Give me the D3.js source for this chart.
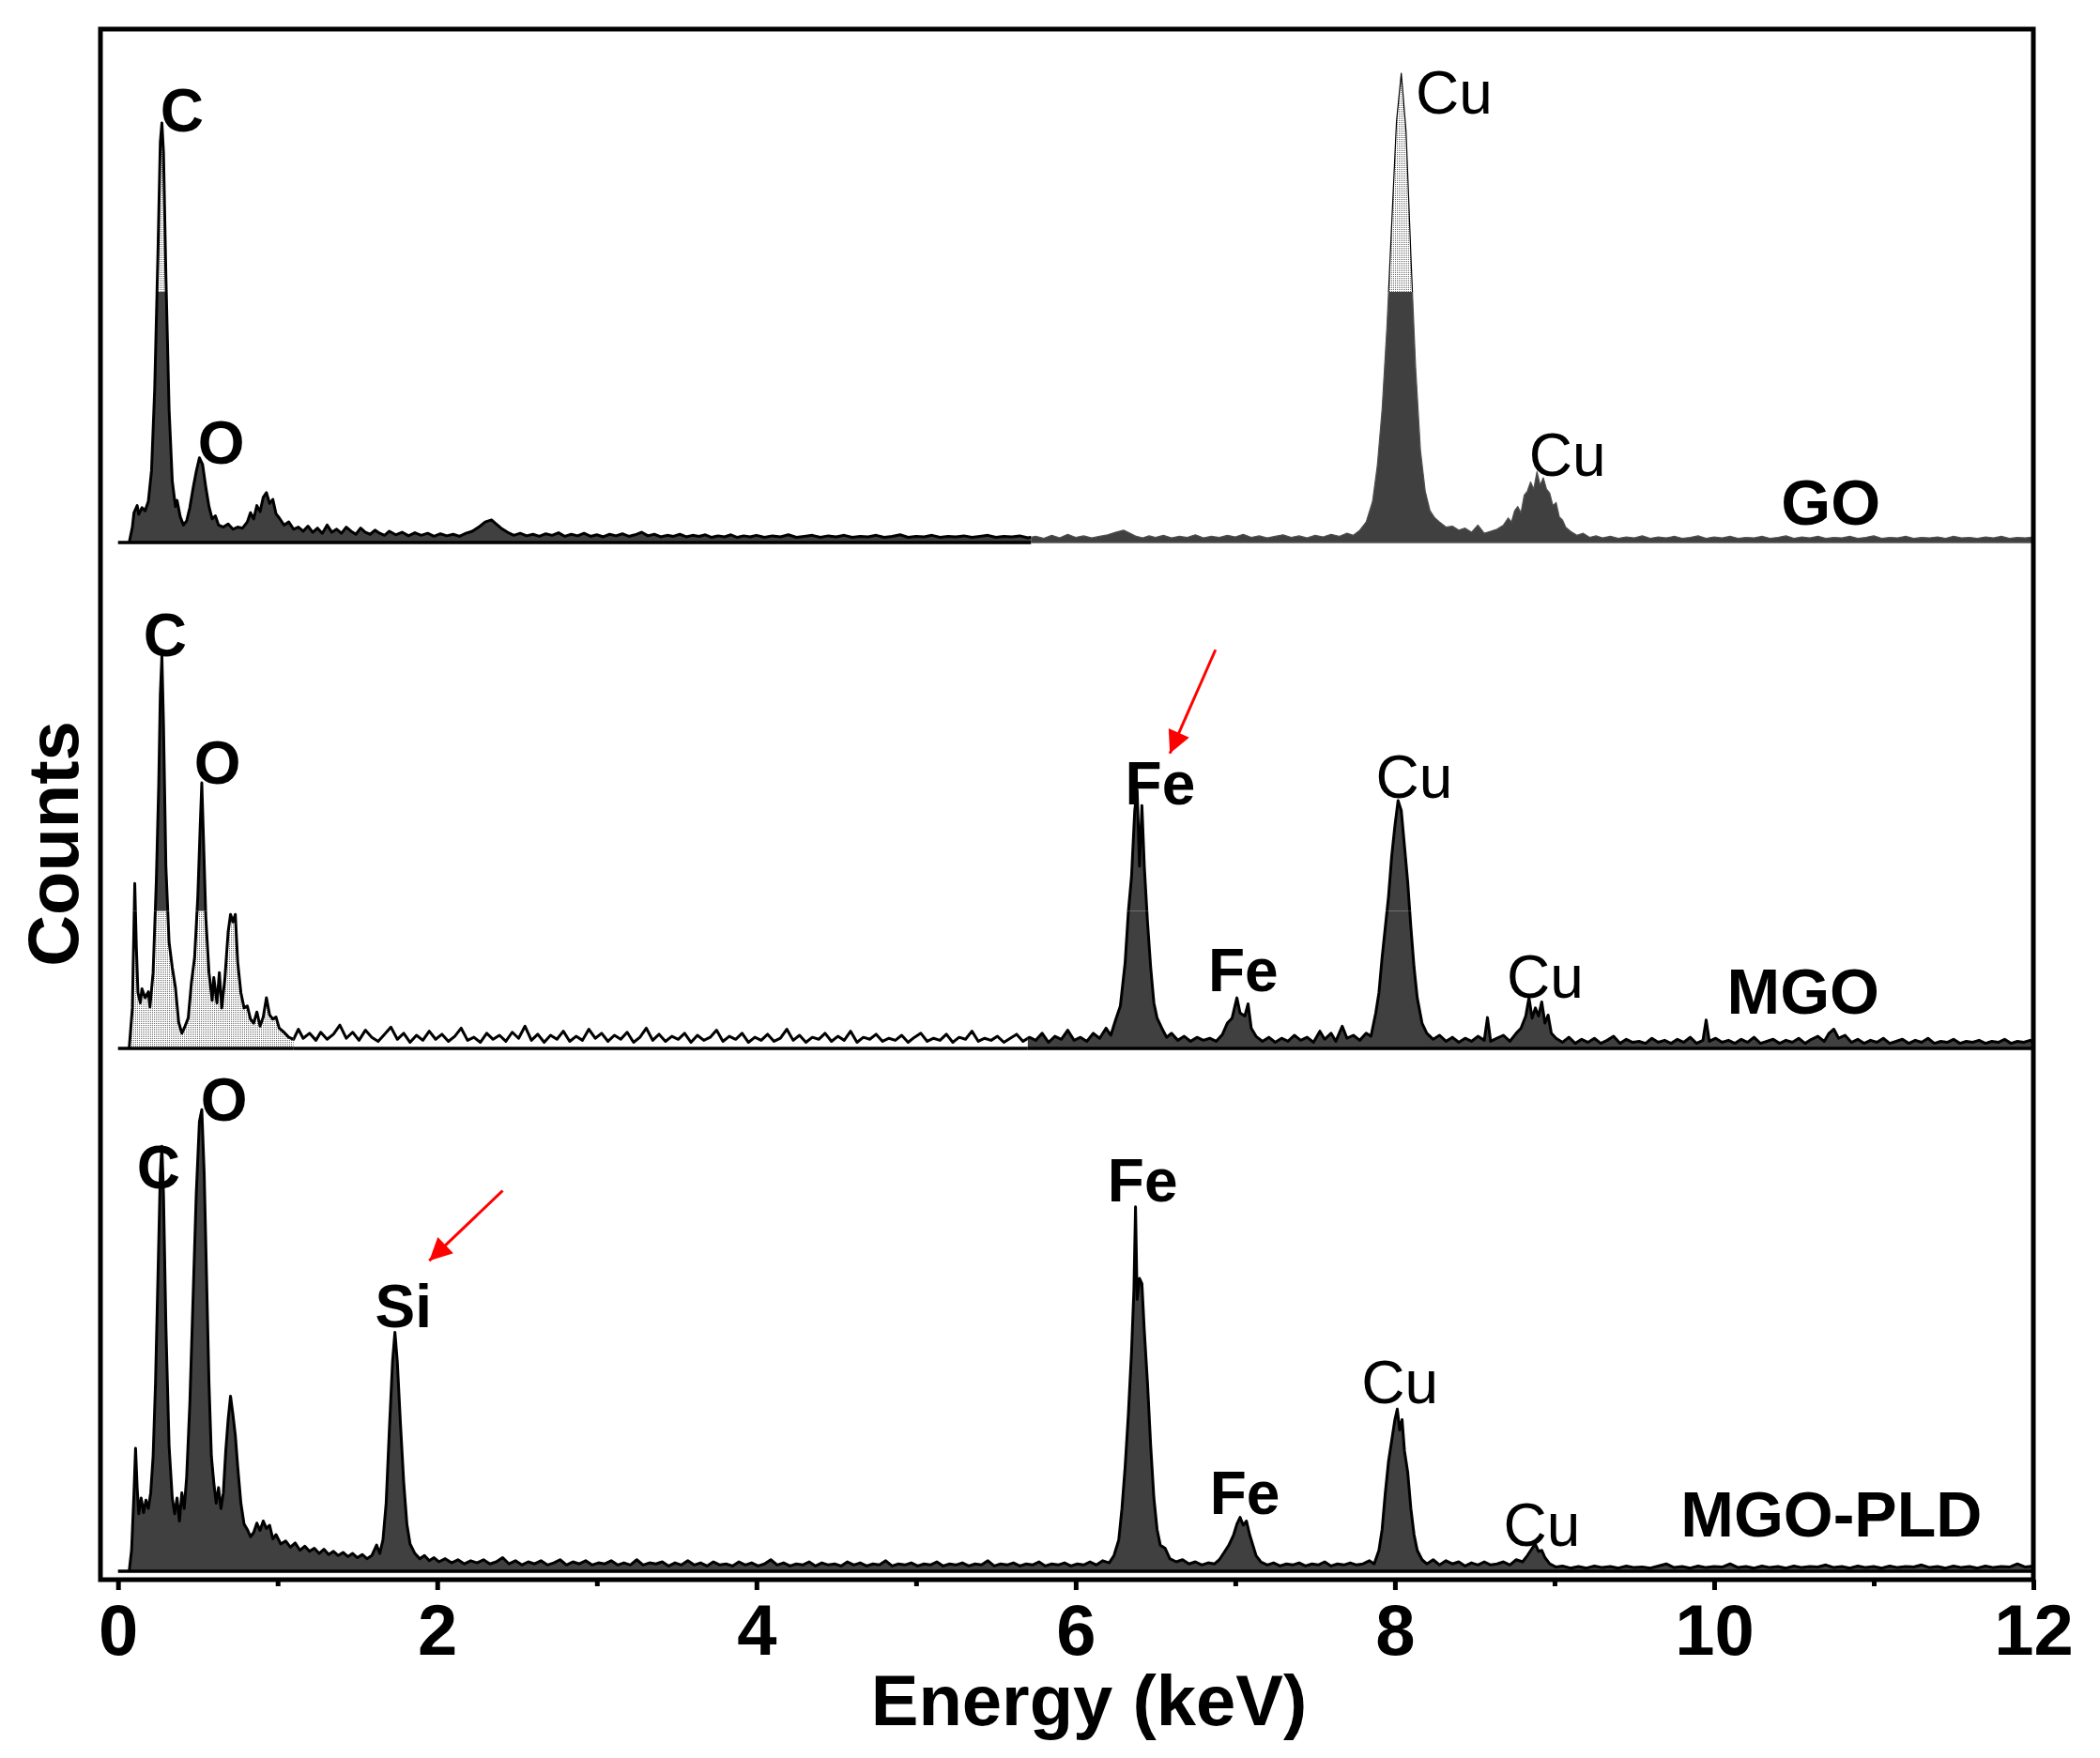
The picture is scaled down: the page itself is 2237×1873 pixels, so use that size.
<!DOCTYPE html>
<html>
<head>
<meta charset="utf-8">
<title>EDS spectra</title>
<script src="https://d3js.org/d3.v7.min.js"></script>
<style>
  body { margin: 0; background: #fff; }
  text { font-family: "Liberation Sans", Arial, sans-serif; }
</style>
</head>
<body>
<svg width="2237" height="1873"></svg>
<script>
// ---- data (energy in keV, counts in arbitrary units, 1000 = panel height) ----
var energyTicks = [0, 2, 4, 6, 8, 10, 12];
var minorTicks = [1, 3, 5, 7, 9, 11];
var samples = ["GO", "MGO", "MGO-PLD"];

var goSpectrum = [
 [0.07,0],[0.09,30],[0.10,58],[0.12,72],[0.13,55],[0.15,68],[0.17,62],[0.19,80],[0.21,140],[0.23,300],[0.25,560],[0.265,780],[0.275,817],[0.285,760],[0.30,520],[0.32,260],[0.34,120],[0.36,70],[0.37,82],[0.39,50],[0.41,34],[0.43,42],[0.45,68],[0.47,105],[0.49,138],[0.51,165],[0.53,152],[0.55,108],[0.57,70],[0.59,46],[0.61,52],[0.63,34],[0.66,30],[0.69,36],[0.72,26],[0.75,30],[0.78,28],[0.81,40],[0.83,58],[0.85,46],[0.87,72],[0.89,60],[0.91,88],[0.93,97],[0.95,76],[0.97,84],[0.99,56],[1.01,48],[1.04,34],[1.07,40],[1.10,26],[1.13,30],[1.16,22],[1.19,32],[1.22,20],[1.25,28],[1.28,18],[1.31,34],[1.34,20],[1.37,26],[1.40,18],[1.43,30],[1.46,22],[1.49,16],[1.52,28],[1.55,20],[1.58,16],[1.61,24],[1.64,18],[1.67,14],[1.70,22],[1.74,15],[1.78,20],[1.82,13],[1.86,19],[1.90,14],[1.94,18],[1.98,12],[2.02,17],[2.06,13],[2.10,16],[2.14,12],[2.18,18],[2.22,22],[2.26,30],[2.30,40],[2.34,44],[2.37,36],[2.40,28],[2.44,20],[2.48,14],[2.52,18],[2.56,13],[2.60,16],[2.64,12],[2.68,17],[2.72,14],[2.76,19],[2.80,12],[2.84,16],[2.88,13],[2.92,18],[2.96,12],[3.00,15],[3.04,11],[3.08,16],[3.12,13],[3.16,17],[3.20,12],[3.24,15],[3.28,20],[3.32,13],[3.36,16],[3.40,11],[3.44,14],[3.48,12],[3.52,16],[3.56,11],[3.60,14],[3.64,12],[3.68,15],[3.72,10],[3.76,13],[3.80,11],[3.84,15],[3.88,10],[3.92,13],[3.96,11],[4.00,14],[4.05,10],[4.10,13],[4.15,11],[4.20,15],[4.25,10],[4.30,12],[4.35,14],[4.40,10],[4.45,13],[4.50,11],[4.55,14],[4.60,10],[4.65,12],[4.70,11],[4.75,14],[4.80,10],[4.85,12],[4.90,15],[4.95,10],[5.00,12],[5.05,11],[5.10,14],[5.15,10],[5.20,12],[5.25,11],[5.30,13],[5.35,10],[5.40,12],[5.45,14],[5.50,10],[5.55,12],[5.60,11],[5.65,13],[5.70,9],
 [5.75,12],[5.80,8],[5.85,14],[5.90,9],[5.95,16],[6.00,10],[6.05,13],[6.10,9],[6.15,12],[6.20,15],[6.25,20],[6.30,24],[6.34,18],[6.38,12],[6.42,9],[6.46,13],[6.50,10],[6.55,14],[6.60,9],[6.65,12],[6.70,10],[6.75,15],[6.80,9],[6.85,12],[6.90,10],[6.95,14],[7.00,11],[7.05,16],[7.10,10],[7.15,13],[7.20,9],[7.25,12],[7.30,15],[7.35,10],[7.40,13],[7.45,9],[7.50,14],[7.55,11],[7.60,16],[7.65,12],[7.70,18],[7.74,14],[7.78,24],[7.82,40],[7.86,80],[7.89,150],[7.92,260],[7.95,420],[7.98,620],[8.01,820],[8.04,914],[8.07,800],[8.10,560],[8.13,340],[8.16,180],[8.19,100],[8.22,62],[8.25,48],[8.28,40],[8.32,30],[8.36,32],[8.40,24],[8.44,28],[8.48,20],[8.52,34],[8.56,18],[8.60,22],[8.64,26],[8.68,34],[8.71,48],[8.73,40],[8.75,62],[8.77,70],[8.79,58],[8.81,92],[8.83,100],[8.85,118],[8.87,104],[8.89,138],[8.91,112],[8.93,126],[8.95,104],[8.97,96],[8.99,72],[9.01,78],[9.03,50],[9.05,44],[9.07,30],[9.10,22],[9.14,14],[9.18,18],[9.22,10],[9.26,13],[9.30,9],[9.35,12],[9.40,8],[9.45,11],[9.50,9],[9.55,13],[9.60,8],[9.65,11],[9.70,9],[9.75,12],[9.80,8],[9.85,10],[9.90,13],[9.95,8],[10.00,11],[10.05,9],[10.10,12],[10.15,8],[10.20,10],[10.25,9],[10.30,12],[10.35,8],[10.40,10],[10.45,13],[10.50,8],[10.55,11],[10.60,9],[10.65,12],[10.70,8],[10.75,10],[10.80,9],[10.85,12],[10.90,8],[10.95,10],[11.00,13],[11.05,8],[11.10,10],[11.15,9],[11.20,12],[11.25,8],[11.30,10],[11.35,9],[11.40,11],[11.45,8],[11.50,12],[11.55,9],[11.60,10],[11.65,8],[11.70,11],[11.75,9],[11.80,12],[11.85,8],[11.90,10],[11.95,9],[12.00,11]
];

var mgoSpectrum = [
 [0.07,0],[0.09,80],[0.105,326],[0.115,200],[0.125,110],[0.14,90],[0.15,118],[0.17,100],[0.19,112],[0.20,82],[0.22,150],[0.24,330],[0.255,520],[0.265,700],[0.275,776],[0.285,640],[0.30,360],[0.32,210],[0.34,160],[0.36,120],[0.38,52],[0.40,30],[0.42,44],[0.44,60],[0.46,130],[0.48,180],[0.50,300],[0.515,440],[0.525,525],[0.535,420],[0.55,260],[0.57,150],[0.59,95],[0.60,140],[0.62,90],[0.635,150],[0.65,80],[0.67,140],[0.69,230],[0.705,265],[0.72,250],[0.735,265],[0.75,170],[0.77,110],[0.79,80],[0.81,84],[0.83,58],[0.85,50],[0.87,72],[0.89,44],[0.91,62],[0.93,100],[0.95,66],[0.97,58],[0.99,62],[1.01,40],[1.04,32],[1.07,22],[1.10,18],[1.13,38],[1.16,20],[1.20,30],[1.24,16],[1.27,32],[1.31,18],[1.35,28],[1.39,46],[1.43,20],[1.47,32],[1.51,16],[1.55,36],[1.59,22],[1.63,14],[1.67,28],[1.71,42],[1.75,18],[1.79,30],[1.83,12],[1.87,26],[1.91,16],[1.95,34],[1.99,18],[2.03,28],[2.07,14],[2.11,24],[2.15,40],[2.19,16],[2.23,22],[2.27,12],[2.31,30],[2.35,18],[2.39,26],[2.43,14],[2.47,32],[2.51,20],[2.55,44],[2.59,16],[2.63,28],[2.67,12],[2.71,26],[2.75,18],[2.79,34],[2.83,14],[2.87,24],[2.91,16],[2.95,38],[2.99,20],[3.03,30],[3.07,14],[3.11,26],[3.15,18],[3.19,32],[3.23,12],[3.27,22],[3.31,40],[3.35,16],[3.39,28],[3.43,14],[3.47,24],[3.51,18],[3.55,30],[3.59,12],[3.63,26],[3.67,16],[3.71,22],[3.75,36],[3.79,14],[3.83,24],[3.87,18],[3.91,30],[3.95,12],[3.99,22],[4.03,16],[4.07,28],[4.11,14],[4.15,20],[4.19,38],[4.23,16],[4.27,26],[4.31,12],[4.35,22],[4.39,18],[4.43,30],[4.47,14],[4.51,24],[4.55,16],[4.59,34],[4.63,12],[4.67,22],[4.71,18],[4.75,28],[4.79,14],[4.83,20],[4.87,16],[4.91,26],[4.95,12],[4.99,22],[5.03,30],[5.07,14],[5.11,20],[5.15,16],[5.19,28],[5.23,12],[5.27,22],[5.31,18],[5.35,34],[5.39,14],[5.43,20],[5.47,16],[5.51,24],[5.55,12],[5.59,20],[5.63,28],[5.67,14],[5.71,22],[5.75,16],[5.79,30],[5.83,12],[5.87,24],[5.91,18],[5.95,36],[5.99,16],[6.03,22],[6.07,14],[6.11,30],[6.15,20],[6.19,40],[6.22,26],[6.25,56],[6.28,84],[6.31,170],[6.33,270],[6.35,340],[6.37,470],[6.385,511],[6.40,360],[6.415,480],[6.43,360],[6.45,250],[6.47,160],[6.49,90],[6.51,60],[6.54,40],[6.57,22],[6.60,30],[6.64,16],[6.68,24],[6.72,14],[6.76,22],[6.80,16],[6.84,20],[6.88,14],[6.92,28],[6.95,50],[6.98,60],[7.01,100],[7.03,70],[7.06,64],[7.08,88],[7.10,40],[7.13,24],[7.17,14],[7.21,22],[7.25,12],[7.29,20],[7.33,14],[7.37,26],[7.41,16],[7.45,22],[7.49,12],[7.53,34],[7.56,18],[7.60,30],[7.63,14],[7.67,44],[7.70,20],[7.74,26],[7.78,16],[7.82,30],[7.85,24],[7.88,70],[7.90,110],[7.92,180],[7.94,240],[7.96,300],[7.98,380],[8.00,440],[8.02,490],[8.04,470],[8.06,400],[8.08,330],[8.10,240],[8.12,160],[8.14,100],[8.17,50],[8.20,30],[8.24,18],[8.28,26],[8.32,14],[8.36,22],[8.40,12],[8.44,20],[8.48,14],[8.52,24],[8.56,16],[8.58,61],[8.60,14],[8.64,20],[8.68,26],[8.72,14],[8.76,30],[8.79,40],[8.82,64],[8.84,100],[8.86,60],[8.88,80],[8.90,64],[8.92,92],[8.94,50],[8.96,66],[8.98,30],[9.01,20],[9.05,12],[9.09,22],[9.13,10],[9.17,18],[9.21,12],[9.25,20],[9.29,10],[9.33,16],[9.37,24],[9.41,10],[9.45,18],[9.49,12],[9.53,14],[9.57,10],[9.61,20],[9.65,12],[9.69,16],[9.73,10],[9.77,18],[9.81,12],[9.85,22],[9.89,10],[9.93,16],[9.95,56],[9.97,14],[10.01,20],[10.05,12],[10.09,16],[10.13,10],[10.17,18],[10.21,12],[10.25,22],[10.29,10],[10.33,14],[10.37,18],[10.41,10],[10.45,16],[10.49,12],[10.53,20],[10.57,10],[10.61,18],[10.65,24],[10.69,14],[10.72,30],[10.75,38],[10.78,20],[10.82,26],[10.86,12],[10.90,18],[10.94,10],[10.98,16],[11.02,12],[11.06,20],[11.10,10],[11.14,14],[11.18,18],[11.22,10],[11.26,16],[11.30,12],[11.34,20],[11.38,10],[11.42,14],[11.46,12],[11.50,18],[11.54,10],[11.58,14],[11.62,12],[11.66,16],[11.70,10],[11.74,14],[11.78,12],[11.82,18],[11.86,10],[11.90,14],[11.94,12],[11.98,16],[12.00,12]
];

var pldSpectrum = [
 [0.07,0],[0.085,40],[0.10,150],[0.11,235],[0.12,160],[0.13,110],[0.145,140],[0.16,112],[0.175,136],[0.19,120],[0.205,150],[0.22,220],[0.235,360],[0.25,560],[0.265,760],[0.275,813],[0.285,720],[0.30,470],[0.32,240],[0.34,140],[0.355,110],[0.37,140],[0.385,96],[0.40,150],[0.415,120],[0.43,180],[0.45,320],[0.47,520],[0.49,720],[0.51,860],[0.525,883],[0.54,760],[0.555,560],[0.57,360],[0.585,220],[0.60,170],[0.615,130],[0.63,160],[0.645,120],[0.66,150],[0.675,230],[0.69,290],[0.705,335],[0.72,300],[0.735,260],[0.75,200],[0.77,130],[0.79,90],[0.81,80],[0.83,66],[0.85,74],[0.87,92],[0.89,78],[0.91,96],[0.93,82],[0.95,88],[0.97,62],[0.99,70],[1.02,52],[1.05,58],[1.08,46],[1.11,54],[1.14,40],[1.17,48],[1.20,38],[1.23,44],[1.26,34],[1.29,42],[1.32,32],[1.35,38],[1.38,30],[1.41,36],[1.44,28],[1.47,34],[1.50,26],[1.53,32],[1.56,24],[1.59,30],[1.62,50],[1.64,34],[1.66,60],[1.68,130],[1.70,270],[1.72,400],[1.735,457],[1.75,400],[1.77,280],[1.79,170],[1.81,90],[1.83,52],[1.86,34],[1.89,24],[1.92,30],[1.95,20],[1.98,26],[2.01,18],[2.05,24],[2.09,16],[2.13,22],[2.17,14],[2.21,20],[2.25,16],[2.29,22],[2.33,14],[2.37,18],[2.41,26],[2.45,14],[2.49,20],[2.53,12],[2.57,18],[2.61,14],[2.65,20],[2.69,12],[2.73,16],[2.77,22],[2.81,12],[2.85,18],[2.89,14],[2.93,20],[2.97,12],[3.01,16],[3.05,14],[3.09,20],[3.13,12],[3.17,16],[3.21,12],[3.25,22],[3.29,12],[3.33,16],[3.37,14],[3.41,18],[3.45,10],[3.49,16],[3.53,12],[3.57,20],[3.61,12],[3.65,16],[3.69,10],[3.73,18],[3.77,12],[3.81,14],[3.85,10],[3.89,18],[3.93,12],[3.97,16],[4.01,10],[4.05,14],[4.09,22],[4.13,12],[4.17,16],[4.21,10],[4.25,14],[4.29,12],[4.33,18],[4.37,10],[4.41,16],[4.45,12],[4.49,14],[4.53,10],[4.57,18],[4.61,12],[4.65,16],[4.69,10],[4.73,14],[4.77,12],[4.81,20],[4.85,10],[4.89,14],[4.93,12],[4.97,16],[5.01,10],[5.05,14],[5.09,12],[5.13,18],[5.17,10],[5.21,14],[5.25,12],[5.29,16],[5.33,10],[5.37,14],[5.41,12],[5.45,20],[5.49,10],[5.53,14],[5.57,12],[5.61,16],[5.65,10],[5.69,14],[5.73,12],[5.77,18],[5.81,10],[5.85,14],[5.89,12],[5.93,16],[5.97,10],[6.01,14],[6.05,12],[6.09,18],[6.13,12],[6.17,20],[6.21,16],[6.24,30],[6.27,60],[6.29,120],[6.31,200],[6.33,300],[6.35,420],[6.365,540],[6.375,697],[6.385,520],[6.40,560],[6.415,550],[6.43,460],[6.45,360],[6.47,240],[6.49,140],[6.51,80],[6.53,50],[6.56,44],[6.59,24],[6.63,18],[6.67,22],[6.71,14],[6.75,18],[6.79,12],[6.83,16],[6.87,14],[6.90,22],[6.93,36],[6.96,50],[6.99,70],[7.01,90],[7.03,103],[7.05,88],[7.07,96],[7.09,70],[7.11,50],[7.13,30],[7.16,18],[7.20,12],[7.24,16],[7.28,10],[7.32,14],[7.36,12],[7.40,16],[7.44,10],[7.48,14],[7.52,12],[7.56,18],[7.60,10],[7.64,14],[7.68,12],[7.72,16],[7.76,12],[7.80,14],[7.84,20],[7.87,14],[7.90,40],[7.92,80],[7.94,150],[7.96,210],[7.98,250],[8.00,290],[8.015,310],[8.03,270],[8.045,290],[8.06,230],[8.08,190],[8.10,120],[8.12,70],[8.14,40],[8.17,22],[8.20,14],[8.24,22],[8.28,12],[8.32,20],[8.36,14],[8.40,18],[8.44,10],[8.48,16],[8.52,12],[8.56,18],[8.60,12],[8.64,14],[8.68,18],[8.72,12],[8.76,22],[8.80,18],[8.83,30],[8.86,44],[8.88,52],[8.90,38],[8.92,40],[8.94,26],[8.97,14],[9.01,8],[9.05,10],[9.10,6],[9.15,9],[9.20,6],[9.25,10],[9.30,7],[9.35,9],[9.40,6],[9.45,10],[9.50,7],[9.55,8],[9.60,6],[9.65,10],[9.70,14],[9.75,7],[9.80,9],[9.85,6],[9.90,10],[9.95,7],[10.00,9],[10.05,8],[10.10,14],[10.15,7],[10.20,9],[10.25,6],[10.30,10],[10.35,7],[10.40,9],[10.45,6],[10.50,10],[10.55,7],[10.60,9],[10.65,8],[10.70,12],[10.75,7],[10.80,9],[10.85,6],[10.90,10],[10.95,7],[11.00,9],[11.05,6],[11.10,10],[11.15,7],[11.20,9],[11.25,8],[11.30,12],[11.35,7],[11.40,9],[11.45,6],[11.50,10],[11.55,7],[11.60,9],[11.65,6],[11.70,10],[11.75,7],[11.80,9],[11.85,8],[11.90,14],[11.95,8],[12.00,10]
];

// peak labels: [text, energy, counts, weight]
var goLabels = [["C",0.265,801,"bold"],["O",0.50,154,"bold"],["Cu",8.13,835,"normal"],["Cu",8.84,130,"normal"]];
var mgoLabels = [["C",0.159,776,"bold"],["O",0.476,523,"bold"],["Fe",6.31,482,"bold"],["Fe",6.83,113,"bold"],["Cu",7.88,495,"normal"],["Cu",8.70,100,"normal"]];
var pldLabels = [["C",0.118,732,"bold"],["O",0.518,862,"bold"],["Si",1.61,467,"bold"],["Fe",6.20,708,"bold"],["Fe",6.84,109,"bold"],["Cu",7.79,321,"normal"],["Cu",8.68,49,"normal"]];
// sample name anchor [energy, counts]
var sampleAnchors = [[10.42,35],[10.08,69],[9.79,67]];
// red arrows [e0, c0, e1, c1]
var mgoArrow = [6.876, 788, 6.59, 583];
var pldArrow = [2.41, 728, 1.95, 594];

// ---- layout ----
var svg = d3.select("svg");
var frame = {left: 107, right: 2166, top: 31, bottom: 1683};
var baselines = [578, 1117, 1674];
var tops = [31, 578, 1117];

var x = d3.scaleLinear().domain([-0.11, 12]).range([frame.left, frame.right]);

var dark = "#404040";
var defs = svg.append("defs");
var pat = defs.append("pattern").attr("id", "dots")
  .attr("width", 2).attr("height", 2).attr("patternUnits", "userSpaceOnUse");
pat.append("rect").attr("width", 2).attr("height", 2).attr("fill", "#fff");
pat.append("rect").attr("width", 1).attr("height", 1).attr("fill", "#6a6a6a");

defs.append("marker").attr("id", "arrowhead")
  .attr("viewBox", "0 0 10 10").attr("refX", 10).attr("refY", 5)
  .attr("markerUnits", "userSpaceOnUse")
  .attr("markerWidth", 34).attr("markerHeight", 24).attr("orient", "auto")
  .append("path").attr("d", "M0,0 L10,5 L0,10 Z").attr("fill", "red");

// fill / stroke zones per panel
var panelStyles = [
  {thr: 488, zones: [
    {from: 0, to: 5.72, below: dark, above: "url(#dots)", stroke: "#000", strokeAbove: "#000", sw: 3},
    {from: 5.72, to: 12.1, below: dark, above: "url(#dots)", stroke: "#505050", strokeAbove: "#000", sw: 1.2}]},
  {thr: 272, zones: [
    {from: 0, to: 1.1, below: "url(#dots)", above: dark, stroke: "#000", strokeAbove: "#000", sw: 3},
    {from: 1.1, to: 5.7, below: "none", above: "none", stroke: "#000", strokeAbove: "#000", sw: 3},
    {from: 5.7, to: 12.1, below: dark, above: dark, stroke: "#000", strokeAbove: "#000", sw: 3}]},
  {thr: 2000, zones: [
    {from: 0, to: 12.1, below: dark, above: dark, stroke: "#000", strokeAbove: "#000", sw: 3}]}
];

var spectra = [goSpectrum, mgoSpectrum, pldSpectrum];
var labels = [goLabels, mgoLabels, pldLabels];
var arrows = [null, mgoArrow, pldArrow];

spectra.forEach(function(data, i) {
  var y = d3.scaleLinear().domain([0, 1000]).range([baselines[i], tops[i]]);
  var st = panelStyles[i];
  var g = svg.append("g");
  var area = d3.area().x(function(d) { return x(d[0]); }).y0(y(0)).y1(function(d) { return y(d[1]); });
  var line = d3.line().x(function(d) { return x(d[0]); }).y(function(d) { return y(d[1]); });
  var yThr = Math.max(y(st.thr), tops[i] - 40);

  st.zones.forEach(function(z, j) {
    [["below", yThr, baselines[i] + 6 - yThr], ["above", tops[i] - 40, yThr - (tops[i] - 40)]].forEach(function(part) {
      var id = "clip" + i + "_" + j + "_" + part[0];
      defs.append("clipPath").attr("id", id).append("rect")
        .attr("x", x(z.from)).attr("width", x(z.to) - x(z.from))
        .attr("y", part[1]).attr("height", Math.max(0, part[2]));
      var fill = part[0] === "below" ? z.below : z.above;
      if (fill !== "none") {
        g.append("path").datum(data).attr("d", area)
          .attr("fill", fill).attr("clip-path", "url(#" + id + ")");
      }
      g.append("path").datum(data).attr("d", line)
        .attr("fill", "none")
        .attr("stroke", part[0] === "below" ? z.stroke : z.strokeAbove)
        .attr("stroke-width", z.sw).attr("stroke-linejoin", "round")
        .attr("clip-path", "url(#" + id + ")");
    });
    // baseline
    g.append("line")
      .attr("x1", x(z.from)).attr("x2", x(Math.min(z.to, 12)))
      .attr("y1", y(0)).attr("y2", y(0))
      .attr("stroke", z.stroke).attr("stroke-width", z.sw + 0.5);
  });

  labels[i].forEach(function(l) {
    g.append("text").attr("x", x(l[1])).attr("y", y(l[2]))
      .attr("font-size", 64).attr("font-weight", l[3]).text(l[0]);
  });
  g.append("text").attr("x", x(sampleAnchors[i][0])).attr("y", y(sampleAnchors[i][1]))
    .attr("font-size", 68).attr("font-weight", "bold").text(samples[i]);

  if (arrows[i]) {
    var a = arrows[i];
    g.append("line")
      .attr("x1", x(a[0])).attr("y1", y(a[1])).attr("x2", x(a[2])).attr("y2", y(a[3]))
      .attr("stroke", "red").attr("stroke-width", 3)
      .attr("marker-end", "url(#arrowhead)");
  }
});

// frame
svg.append("rect")
  .attr("x", frame.left).attr("y", frame.top)
  .attr("width", frame.right - frame.left).attr("height", frame.bottom - frame.top)
  .attr("fill", "none").attr("stroke", "#000").attr("stroke-width", 5);

// x axis
var axisY = frame.bottom;
var axis = svg.append("g").attr("transform", "translate(0," + axisY + ")")
  .call(d3.axisBottom(x).tickValues(energyTicks).tickSize(11).tickFormat(d3.format("d")));
axis.select(".domain").remove();
axis.selectAll("line").attr("stroke-width", 5);
axis.selectAll("text")
  .attr("y", 1763 - axisY).attr("dy", 0)
  .attr("font-size", 76).attr("font-weight", "bold")
  .attr("font-family", "Liberation Sans, Arial, sans-serif");

var minor = svg.append("g").attr("transform", "translate(0," + axisY + ")")
  .call(d3.axisBottom(x).tickValues(minorTicks).tickSize(7).tickFormat(""));
minor.select(".domain").remove();
minor.selectAll("line").attr("stroke-width", 5);

// axis titles
svg.append("text").attr("x", 1160).attr("y", 1838)
  .attr("text-anchor", "middle").attr("font-size", 76).attr("font-weight", "bold")
  .text("Energy (keV)");
svg.append("text").attr("transform", "translate(83,899) rotate(-90)")
  .attr("text-anchor", "middle").attr("font-size", 76).attr("font-weight", "bold")
  .text("Counts");
</script>
</body>
</html>
